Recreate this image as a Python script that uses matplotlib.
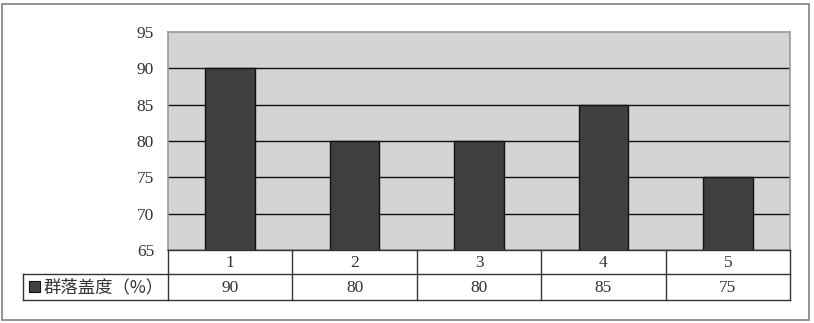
import matplotlib.pyplot as plt
from matplotlib.patches import Rectangle

plt.rcParams["font.family"] = ["Liberation Serif", "Noto Sans CJK SC", "DejaVu Sans"]

categories = ["1", "2", "3", "4", "5"]
coverage = [90, 80, 80, 85, 75]
series_name = "群落盖度（%）"
y_ticks = [65, 70, 75, 80, 85, 90, 95]

W, H = 814, 323
fig = plt.figure(figsize=(W / 100, H / 100), dpi=100)

# outer frame
fig.patches.append(Rectangle((2 / W, 3 / H), 807 / W, 316 / H, transform=fig.transFigure,
                             fill=False, edgecolor="#808080", linewidth=1.2))

# plot area
x0, x1, ytop, ybot = 168, 790, 32, 250
ax = fig.add_axes([x0 / W, 1 - ybot / H, (x1 - x0) / W, (ybot - ytop) / H])
ax.set_facecolor("#d4d4d4")
xs = list(range(len(categories)))
ax.bar(xs, coverage, width=0.4, color="#404040", edgecolor="#111111", linewidth=1, zorder=3)
ax.set_xlim(-0.5, len(categories) - 0.5)
ax.set_ylim(65, 95)
ax.set_yticks(y_ticks)
ax.set_yticklabels([str(t) for t in y_ticks], fontsize=12.5, color="#333333")
ax.tick_params(axis="y", length=0, pad=10)
ax.set_xticks([])
for t in y_ticks[1:-1]:
    ax.axhline(t, color="#111111", linewidth=1, zorder=2)
for s in ax.spines.values():
    s.set_color("#999999")
    s.set_linewidth(1.2)

# data table below
tl, tr, r0, r1, r2 = 23, 790, 250, 274, 300
tax = fig.add_axes([tl / W, 1 - r2 / H, (tr - tl) / W, (r2 - r0) / H])
tax.set_xlim(tl, tr)
tax.set_ylim(r2, r0)
tax.axis("off")
col_w = (x1 - x0) / len(categories)
lc = "#333333"
tax.plot([x0, x1], [r0, r0], color=lc, lw=1, clip_on=False)
tax.plot([tl, tr], [r1, r1], color=lc, lw=1, clip_on=False)
tax.plot([tl, tr], [r2, r2], color=lc, lw=1, clip_on=False)
tax.plot([tl, tl], [r1, r2], color=lc, lw=1, clip_on=False)
for i in range(len(categories) + 1):
    xv = x0 + i * col_w
    tax.plot([xv, xv], [r0, r2], color=lc, lw=1, clip_on=False)
for i, (c, v) in enumerate(zip(categories, coverage)):
    cx = x0 + (i + 0.5) * col_w
    tax.text(cx, (r0 + r1) / 2 + 1, c, ha="center", va="center", fontsize=12.5, color="#333333")
    tax.text(cx, (r1 + r2) / 2 + 1, str(v), ha="center", va="center", fontsize=12.5, color="#333333")
tax.add_patch(Rectangle((29, 281), 11, 11, facecolor="#404040", edgecolor="#111111", lw=0.8))
tax.text(44, (r1 + r2) / 2, series_name, ha="left", va="center", fontsize=12.5,
         color="#333333", family=["Noto Sans CJK SC", "DejaVu Sans"])

fig.savefig("out.png", dpi=100)
